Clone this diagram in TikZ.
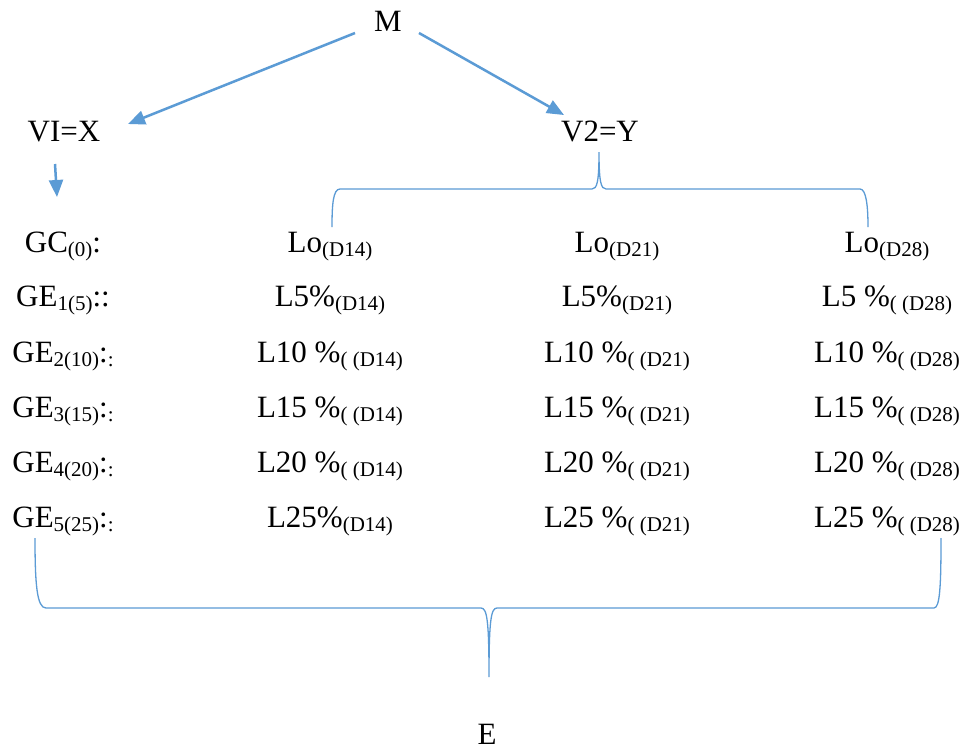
\documentclass[tikz,border=0pt]{standalone}
\usepackage{fontspec}
\setmainfont{Liberation Serif}
\newfontfamily\tnrfont{Liberation Serif}
\usetikzlibrary{arrows.meta}
\definecolor{lineblue}{HTML}{5B9BD5}
\newcommand{\lowsub}[1]{\raisebox{-4pt}{\tnrfont\fontsize{21}{22}\selectfont #1}}
\begin{document}
\begin{tikzpicture}[x=1pt,y=-1pt,
  txt/.style={font=\tnrfont\fontsize{31}{36}\selectfont, inner sep=0pt, anchor=base},
  arr/.style={draw=lineblue, line width=2.5pt, -{Triangle[length=17pt,width=14pt]}},
  bracestyle/.style={draw=lineblue, line width=1.3pt}]
\useasboundingbox[fill=white] (0,0) rectangle (966,750);

% main nodes
\node[txt] (M) at (388,31) {M};
\node[txt] (V1) at (64,141) {VI=X};
\node[txt] (V2) at (600,141) {V2=Y};
\node[txt] (E) at (487,744) {E};

% connector ends
\coordinate (mL) at (355,33);
\coordinate (v1tip) at (128,124);
\coordinate (mR) at (419,33);
\coordinate (v2tip) at (564,115);
\coordinate (sA) at (55,164);
\coordinate (sB) at (57,197);

\draw[arr] (mL) -- (v1tip);
\draw[arr] (mR) -- (v2tip);
\draw[arr] (sA) -- (sB);

% row labels
\node[txt] (gc)  at (63,252) {GC\lowsub{(0)}:};
\node[txt] (ge1) at (63,306) {GE\lowsub{1(5)}::};
\node[txt] (ge2) at (63,362) {GE\lowsub{2(10)}:\lowsub{:}};
\node[txt] (ge3) at (63,417) {GE\lowsub{3(15)}:\lowsub{:}};
\node[txt] (ge4) at (63,472) {GE\lowsub{4(20)}:\lowsub{:}};
\node[txt] (ge5) at (63,527) {GE\lowsub{5(25)}:\lowsub{:}};

% column D14
\node[txt] (a0) at (330,252) {Lo\lowsub{(D14)}};
\node[txt] (a1) at (330,306) {L5\%\lowsub{(D14)}};
\node[txt] (a2) at (330,362) {L10 \%\lowsub{( (D14)}};
\node[txt] (a3) at (330,417) {L15 \%\lowsub{( (D14)}};
\node[txt] (a4) at (330,472) {L20 \%\lowsub{( (D14)}};
\node[txt] (a5) at (330,527) {L25\%\lowsub{(D14)}};

% column D21
\node[txt] (b0) at (617,252) {Lo\lowsub{(D21)}};
\node[txt] (b1) at (617,306) {L5\%\lowsub{(D21)}};
\node[txt] (b2) at (617,362) {L10 \%\lowsub{( (D21)}};
\node[txt] (b3) at (617,417) {L15 \%\lowsub{( (D21)}};
\node[txt] (b4) at (617,472) {L20 \%\lowsub{( (D21)}};
\node[txt] (b5) at (617,527) {L25 \%\lowsub{( (D21)}};

% column D28
\node[txt] (c0) at (887,252) {Lo\lowsub{(D28)}};
\node[txt] (c1) at (887,306) {L5 \%\lowsub{( (D28)}};
\node[txt] (c2) at (887,362) {L10 \%\lowsub{( (D28)}};
\node[txt] (c3) at (887,417) {L15 \%\lowsub{( (D28)}};
\node[txt] (c4) at (887,472) {L20 \%\lowsub{( (D28)}};
\node[txt] (c5) at (887,527) {L25 \%\lowsub{( (D28)}};

% upper brace
\draw[bracestyle] (332,227) .. controls (332,205) and (333,189) .. (340,189)
  -- (592,189) .. controls (597,189) and (599,182) .. (599,152)
  .. controls (599,182) and (601,189) .. (606,189)
  -- (860,189) .. controls (866,189) and (868,205) .. (868,227);

% lower brace
\draw[bracestyle] (35,538) .. controls (35,585) and (37,608) .. (46,608)
  -- (481,608) .. controls (487,608) and (489,620) .. (489,677)
  .. controls (489,620) and (491,608) .. (497,608)
  -- (934,608) .. controls (940,608) and (941,585) .. (941,538);
\end{tikzpicture}
\end{document}
